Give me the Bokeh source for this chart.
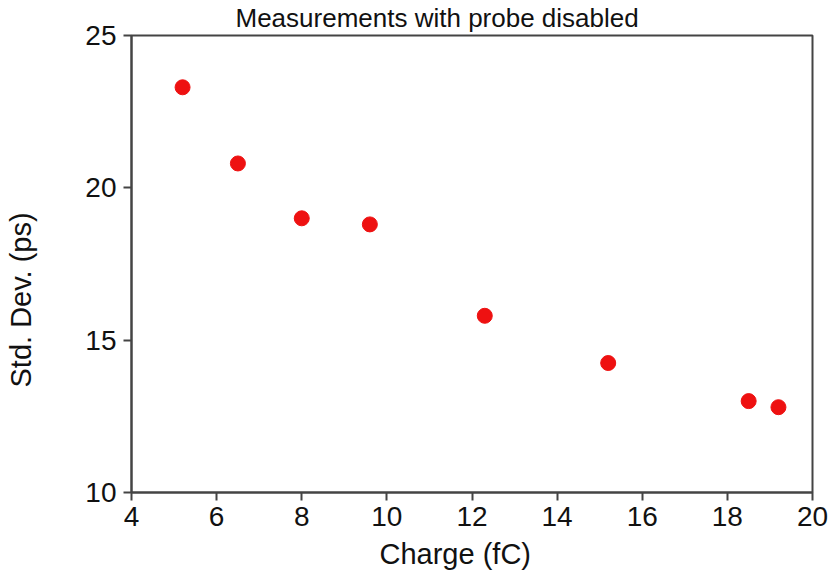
import math
from bokeh.plotting import figure
from bokeh.models import Range1d, FixedTicker, Title, Label
from bokeh.embed import file_html
from bokeh.resources import INLINE

charge = [5.2, 6.5, 8.0, 9.6, 12.3, 15.2, 18.5, 19.2]
std_dev = [23.3, 20.8, 19.0, 18.8, 15.8, 14.25, 13.0, 12.8]
x_ticks = [4, 6, 8, 10, 12, 14, 16, 18, 20]
y_ticks = [10, 15, 20, 25]

FONT = "Liberation Sans"
AX = "#444444"
TXT = "#111111"

p = figure(width=832, height=577, output_backend="svg", toolbar_location=None,
           x_range=Range1d(4, 20), y_range=Range1d(10, 25),
           min_border_left=131, min_border_right=20, min_border_top=35, min_border_bottom=85)
p.title = Title(text="Measurements with probe disabled", align="left", vertical_align="top",
                text_font=FONT, text_font_size="26px", text_font_style="normal",
                text_color=TXT, offset=104, standoff=2)

p.scatter(charge, std_dev, size=15, color="#ee1111", line_color="#ee1111")

p.grid.visible = False
p.outline_line_color = AX
p.outline_line_width = 2
p.background_fill_color = "white"
p.border_fill_color = "white"

for ax in (p.xaxis[0], p.yaxis[0]):
    ax.axis_line_color = AX
    ax.axis_line_width = 2
    ax.major_tick_line_color = AX
    ax.major_tick_line_width = 2
    ax.major_tick_out = 8
    ax.major_tick_in = 0
    ax.minor_tick_out = 0
    ax.minor_tick_in = 0
    ax.major_label_text_font = FONT
    ax.major_label_text_font_size = "28px"
    ax.major_label_text_color = TXT

p.xaxis.ticker = FixedTicker(ticks=x_ticks)
p.yaxis.ticker = FixedTicker(ticks=y_ticks)
p.xaxis.major_label_standoff = 6
p.yaxis.major_label_standoff = 7

xlabel = Title(text="Charge (fC)", align="left", offset=248, standoff=14,
               text_font=FONT, text_font_size="29px", text_font_style="normal", text_color=TXT)
p.add_layout(xlabel, "below")

ylabel = Label(text="Std. Dev. (ps)", x=-30, y=105, x_units="screen", y_units="screen",
               angle=math.pi / 2, text_align="left", text_baseline="middle",
               text_font=FONT, text_font_size="29px", text_color=TXT)
p.add_layout(ylabel, "left")

open("out.html", "w").write(file_html(p, INLINE))
